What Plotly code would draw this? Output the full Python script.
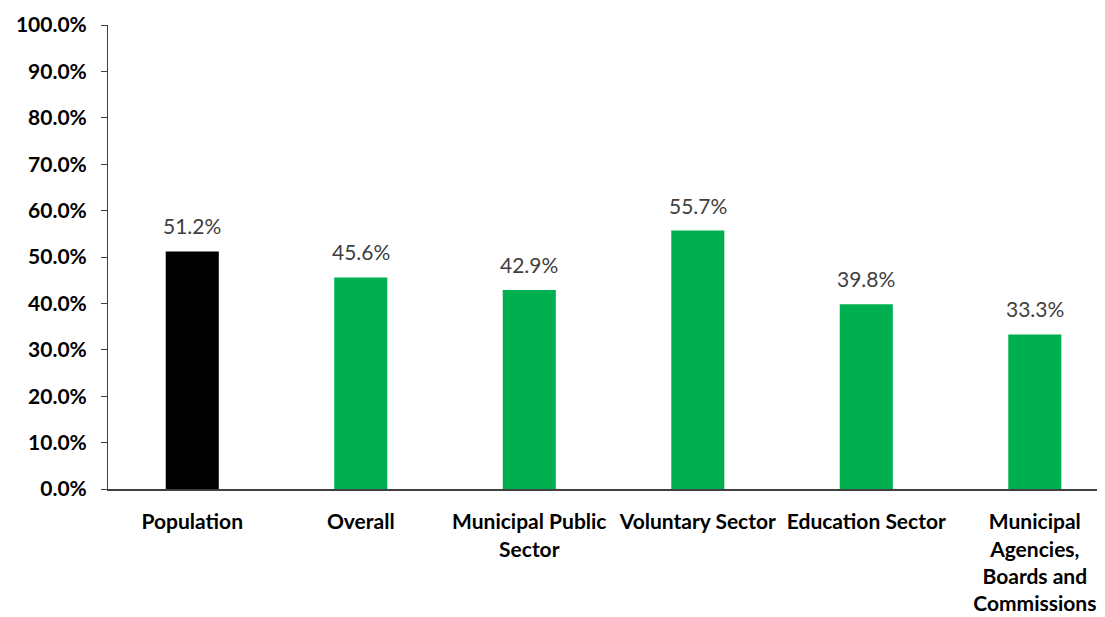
import plotly.graph_objects as go

categories = ["Population", "Overall", "Municipal Public<br>Sector", "Voluntary Sector",
              "Education Sector", "Municipal<br>Agencies,<br>Boards and<br>Commissions"]
values = [0.512, 0.456, 0.429, 0.557, 0.398, 0.333]
colors = ["#000000", "#00B050", "#00B050", "#00B050", "#00B050", "#00B050"]
y_ticks = [i / 10 for i in range(11)]

fig = go.Figure()
fig.add_trace(go.Bar(x=categories, y=values, marker=dict(color=colors, line=dict(width=0)),
                     width=0.315, showlegend=False, hoverinfo="skip"))

for c, v in zip(categories, values):
    fig.add_annotation(x=c, y=v, text=f"{v*100:.1f}%", showarrow=False, yanchor="bottom",
                       yshift=11, font=dict(family="Lato, Open Sans, sans-serif", size=21, color="#404040"))

fig.update_layout(
    width=1105, height=617,
    margin=dict(l=100, r=0, t=17, b=136, autoexpand=False),
    plot_bgcolor="white", paper_bgcolor="white",
    font=dict(family="Lato, Open Sans, sans-serif", color="#000000"),
)
fig.update_xaxes(range=[-0.5, 5.464], showline=True, linecolor="#404040", linewidth=2,
                 ticks="", tickfont=dict(size=21, family="Lato, sans-serif", weight="bold"),
                 ticklabelstandoff=13, automargin=False, showgrid=False, fixedrange=True)
fig.update_yaxes(range=[0, 1], tickvals=y_ticks, tickformat=".1%", showline=True,
                 linecolor="#404040", linewidth=1, ticks="outside", ticklen=6, tickcolor="#404040",
                 tickfont=dict(size=21, family="Lato, sans-serif", weight="bold"),
                 ticklabelstandoff=10, automargin=False, showgrid=False, zeroline=False,
                 fixedrange=True)

fig.write_html("out.html")
